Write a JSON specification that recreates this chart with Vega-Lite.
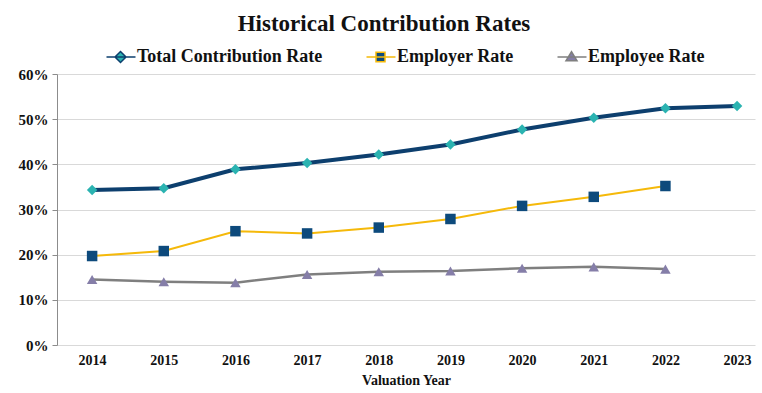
{
  "$schema": "https://vega.github.io/schema/vega-lite/v6.json",
  "width": 698,
  "height": 271,
  "autosize": {"type": "none"},
  "padding": {"left": 57, "top": 74, "right": 7, "bottom": 48},
  "background": "white",
  "title": {
    "text": "Historical Contribution Rates",
    "font": "Liberation Serif",
    "fontSize": 23,
    "fontWeight": "bold",
    "color": "#111111",
    "anchor": "middle",
    "offset": 12,
    "dx": -22
  },
  "config": {
    "view": {"stroke": null},
    "font": "Liberation Serif",
    "legend": {
      "title": null,
      "orient": "none",
      "direction": "horizontal",
      "legendX": 60,
      "legendY": -26,
      "padding": 0,
      "labelFont": "Liberation Serif",
      "labelFontSize": 18,
      "labelFontWeight": "bold",
      "labelColor": "#111111",
      "labelLimit": 400,
      "labelOffset": 2,
      "columnPadding": 40,
      "symbolSize": 100,
      "symbolStrokeWidth": 1.5,
      "symbolOpacity": 1
    }
  },
  "resolve": {
    "scale": {
      "color": "independent",
      "fill": "independent",
      "stroke": "independent",
      "shape": "independent",
      "strokeWidth": "independent"
    },
    "legend": {
      "color": "independent",
      "fill": "independent",
      "stroke": "independent",
      "shape": "independent",
      "strokeWidth": "independent"
    }
  },
  "data": {
    "values": [
      {"year": 2014, "series": "Total Contribution Rate", "rate": 0.343},
      {"year": 2015, "series": "Total Contribution Rate", "rate": 0.347},
      {"year": 2016, "series": "Total Contribution Rate", "rate": 0.389},
      {"year": 2017, "series": "Total Contribution Rate", "rate": 0.403},
      {"year": 2018, "series": "Total Contribution Rate", "rate": 0.422},
      {"year": 2019, "series": "Total Contribution Rate", "rate": 0.444},
      {"year": 2020, "series": "Total Contribution Rate", "rate": 0.477},
      {"year": 2021, "series": "Total Contribution Rate", "rate": 0.503},
      {"year": 2022, "series": "Total Contribution Rate", "rate": 0.524},
      {"year": 2023, "series": "Total Contribution Rate", "rate": 0.529},
      {"year": 2014, "series": "Employer Rate", "rate": 0.197},
      {"year": 2015, "series": "Employer Rate", "rate": 0.208},
      {"year": 2016, "series": "Employer Rate", "rate": 0.252},
      {"year": 2017, "series": "Employer Rate", "rate": 0.247},
      {"year": 2018, "series": "Employer Rate", "rate": 0.260},
      {"year": 2019, "series": "Employer Rate", "rate": 0.279},
      {"year": 2020, "series": "Employer Rate", "rate": 0.308},
      {"year": 2021, "series": "Employer Rate", "rate": 0.328},
      {"year": 2022, "series": "Employer Rate", "rate": 0.352},
      {"year": 2014, "series": "Employee Rate", "rate": 0.145},
      {"year": 2015, "series": "Employee Rate", "rate": 0.140},
      {"year": 2016, "series": "Employee Rate", "rate": 0.138},
      {"year": 2017, "series": "Employee Rate", "rate": 0.156},
      {"year": 2018, "series": "Employee Rate", "rate": 0.162},
      {"year": 2019, "series": "Employee Rate", "rate": 0.164},
      {"year": 2020, "series": "Employee Rate", "rate": 0.170},
      {"year": 2021, "series": "Employee Rate", "rate": 0.173},
      {"year": 2022, "series": "Employee Rate", "rate": 0.168}
    ]
  },
  "encoding": {
    "x": {
      "field": "year",
      "type": "quantitative",
      "scale": {"domain": [2013.51, 2023.25], "nice": false, "zero": false},
      "axis": {
        "values": [2014, 2015, 2016, 2017, 2018, 2019, 2020, 2021, 2022, 2023],
        "format": "d",
        "title": "Valuation Year",
        "titleFont": "Liberation Serif",
        "titleFontSize": 14,
        "titleFontWeight": "bold",
        "titleColor": "#111111",
        "titlePadding": 6,
        "labelFont": "Liberation Serif",
        "labelFontSize": 14,
        "labelFontWeight": "bold",
        "labelColor": "#111111",
        "labelPadding": 8,
        "domain": false,
        "ticks": false,
        "grid": false
      }
    },
    "y": {
      "field": "rate",
      "type": "quantitative",
      "scale": {"domain": [0, 0.6], "nice": false},
      "axis": {
        "values": [0, 0.1, 0.2, 0.3, 0.4, 0.5, 0.6],
        "format": ".0%",
        "title": null,
        "labelFont": "Liberation Serif",
        "labelFontSize": 15,
        "labelFontWeight": "bold",
        "labelColor": "#111111",
        "labelPadding": 4,
        "domain": true,
        "domainColor": "#8c8c8c",
        "ticks": true,
        "tickSize": 5,
        "tickColor": "#8c8c8c",
        "gridColor": "#d9d9d9",
        "gridWidth": 1
      }
    }
  },
  "layer": [
    {
      "mark": {"type": "line"},
      "encoding": {
        "stroke": {
          "field": "series",
          "type": "nominal",
          "scale": {
            "domain": ["Employee Rate", "Employer Rate", "Total Contribution Rate"],
            "range": ["#7f7f7f", "#f5b90a", "#0d3f6e"]
          },
          "legend": null
        },
        "strokeWidth": {
          "field": "series",
          "type": "nominal",
          "scale": {
            "type": "ordinal",
            "domain": ["Employee Rate", "Employer Rate", "Total Contribution Rate"],
            "range": [2.5, 2, 4]
          },
          "legend": null
        }
      }
    },
    {
      "mark": {"type": "point", "filled": true, "opacity": 1, "size": 110},
      "encoding": {
        "shape": {
          "field": "series",
          "type": "nominal",
          "scale": {
            "domain": ["Employee Rate", "Employer Rate", "Total Contribution Rate"],
            "range": ["triangle-up", "square", "diamond"]
          },
          "legend": null
        },
        "color": {
          "field": "series",
          "type": "nominal",
          "scale": {
            "domain": ["Employee Rate", "Employer Rate", "Total Contribution Rate"],
            "range": ["#857ea8", "#0d4a7c", "#2bb3b1"]
          },
          "legend": null
        }
      }
    },
    {
      "transform": [{"filter": "datum.rate < 0"}],
      "mark": {"type": "point", "filled": true, "opacity": 1, "size": 100, "strokeWidth": 1.5},
      "encoding": {
        "shape": {
          "field": "series",
          "type": "nominal",
          "scale": {
            "domain": ["Total Contribution Rate", "Employer Rate", "Employee Rate"],
            "range": [
              "M-3.9,0H1.9M-1.1,-1.1L0,0L-1.1,1.1L-2.2,0Z",
              "M-3.9,0H1.9M-2,-0.95H-0.2V0.95H-2Z",
              "M-3.9,0H1.9M-1.1,-1.05L0,0.75H-2.2Z"
            ]
          },
          "legend": {}
        },
        "fill": {
          "field": "series",
          "type": "nominal",
          "scale": {
            "domain": ["Total Contribution Rate", "Employer Rate", "Employee Rate"],
            "range": ["#2bb3b1", "#0d4a7c", "#857ea8"]
          },
          "legend": {}
        },
        "stroke": {
          "field": "series",
          "type": "nominal",
          "scale": {
            "domain": ["Total Contribution Rate", "Employer Rate", "Employee Rate"],
            "range": ["#0d3f6e", "#f5b90a", "#7f7f7f"]
          },
          "legend": {}
        }
      }
    }
  ]
}
